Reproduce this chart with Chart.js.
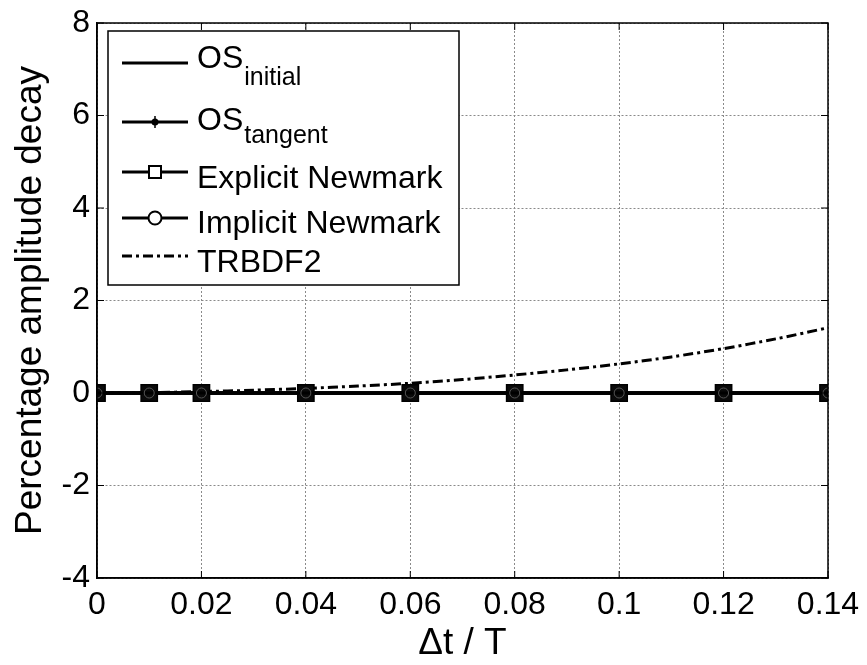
<!DOCTYPE html>
<html>
<head>
<meta charset="utf-8">
<script src="https://cdn.jsdelivr.net/npm/chart.js@4"></script>
<style>
    html, body { margin: 0; padding: 0; background: #fff; }
    #wrap { width: 867px; height: 665px; }
</style>
</head>
<body>
<div id="wrap"><canvas id="graphic"></canvas></div>
<script>
// --- DATOS ---
const xMarks = [0, 0.01, 0.02, 0.04, 0.06, 0.08, 0.1, 0.12, 0.14];
const osInitial = [0, 0, 0, 0, 0, 0, 0, 0, 0];
const osTangent = [0, 0, 0, 0, 0, 0, 0, 0, 0];
const explicitNewmark = [0, 0, 0, 0, 0, 0, 0, 0, 0];
const implicitNewmark = [0, 0, 0, 0, 0, 0, 0, 0, 0];

const xTrbdf2 = [0, 0.01, 0.02, 0.03, 0.04, 0.05, 0.06, 0.07, 0.08, 0.09, 0.1, 0.11, 0.12, 0.13, 0.14];
const trbdf2 = [0, 0.01, 0.03, 0.06, 0.1, 0.15, 0.21, 0.29, 0.39, 0.5, 0.63, 0.78, 0.96, 1.17, 1.41];

const xTicks = [0, 0.02, 0.04, 0.06, 0.08, 0.1, 0.12, 0.14];
const yTicks = [-4, -2, 0, 2, 4, 6, 8];

const FONT = "'Liberation Sans', Arial, sans-serif";

function puntos(xs, ys) {
    return xs.map((x, i) => ({ x: x, y: ys[i] }));
}

// caja, ticks interiores y leyenda estilo MATLAB
const marcoPlugin = {
    id: "marco",
    afterDraw(chart) {
        const ctx = chart.ctx;
        const a = chart.chartArea;
        const sx = chart.scales.x, sy = chart.scales.y;
        ctx.save();
        ctx.strokeStyle = "#000";
        ctx.lineWidth = 1.5;
        ctx.strokeRect(a.left, a.top, a.right - a.left, a.bottom - a.top);
        ctx.lineWidth = 1;
        ctx.beginPath();
        xTicks.forEach(v => {
            const px = sx.getPixelForValue(v);
            ctx.moveTo(px, a.bottom); ctx.lineTo(px, a.bottom - 7);
            ctx.moveTo(px, a.top); ctx.lineTo(px, a.top + 7);
        });
        yTicks.forEach(v => {
            const py = sy.getPixelForValue(v);
            ctx.moveTo(a.left, py); ctx.lineTo(a.left + 7, py);
            ctx.moveTo(a.right, py); ctx.lineTo(a.right - 7, py);
        });
        ctx.stroke();

        // leyenda
        const bx = 108, by = 31, bw = 351, bh = 254;
        ctx.fillStyle = "#fff";
        ctx.fillRect(bx, by, bw, bh);
        ctx.strokeStyle = "#000";
        ctx.lineWidth = 1.5;
        ctx.strokeRect(bx, by, bw, bh);

        const filas = [
            { ly: 63, base: 68, main: "OS", sub: "initial", subBase: 85, dash: [], marker: null },
            { ly: 122, base: 130, main: "OS", sub: "tangent", subBase: 143, dash: [], marker: "star" },
            { ly: 172, base: 188, main: "Explicit Newmark", dash: [], marker: "rect" },
            { ly: 218, base: 233, main: "Implicit Newmark", dash: [], marker: "circle" },
            { ly: 256, base: 272, main: "TRBDF2", dash: [10, 4, 3, 4], marker: null }
        ];
        filas.forEach(f => {
            ctx.strokeStyle = "#000";
            ctx.lineWidth = 3;
            ctx.setLineDash(f.dash);
            ctx.beginPath();
            ctx.moveTo(122, f.ly);
            ctx.lineTo(188, f.ly);
            ctx.stroke();
            ctx.setLineDash([]);
            const mx = 155;
            if (f.marker === "rect") {
                ctx.fillStyle = "#fff";
                ctx.lineWidth = 2;
                ctx.fillRect(mx - 6, f.ly - 6, 12, 12);
                ctx.strokeRect(mx - 6, f.ly - 6, 12, 12);
            } else if (f.marker === "circle") {
                ctx.fillStyle = "#fff";
                ctx.lineWidth = 2;
                ctx.beginPath();
                ctx.arc(mx, f.ly, 6.5, 0, Math.PI * 2);
                ctx.fill();
                ctx.stroke();
            } else if (f.marker === "star") {
                ctx.fillStyle = "#000";
                ctx.beginPath();
                ctx.arc(mx, f.ly, 3.5, 0, Math.PI * 2);
                ctx.fill();
                ctx.lineWidth = 1.5;
                ctx.beginPath();
                ctx.moveTo(mx, f.ly - 6); ctx.lineTo(mx, f.ly + 6);
                ctx.stroke();
            }
            ctx.fillStyle = "#000";
            ctx.textAlign = "left";
            ctx.textBaseline = "alphabetic";
            ctx.font = "32px " + FONT;
            ctx.fillText(f.main, 197, f.base);
            if (f.sub) {
                const w = ctx.measureText(f.main).width;
                ctx.font = "25px " + FONT;
                ctx.fillText(f.sub, 197 + w + 1, f.subBase);
            }
        });
        ctx.restore();
    }
};

new Chart(document.getElementById("graphic"), {
    type: "line",
    data: {
        datasets: [
            {
                label: "TRBDF2",
                data: puntos(xTrbdf2, trbdf2),
                borderColor: "#000",
                borderWidth: 3,
                borderDash: [10, 4, 3, 4],
                pointRadius: 0,
                tension: 0.3,
                order: 4
            },
            {
                label: "OS initial",
                data: puntos(xMarks, osInitial),
                borderColor: "#000",
                borderWidth: 3.5,
                pointRadius: 0,
                order: 3
            },
            {
                label: "OS tangent",
                data: puntos(xMarks, osTangent),
                borderColor: "#000",
                borderWidth: 3.5,
                pointStyle: "circle",
                pointRadius: 4,
                pointBackgroundColor: "#000",
                pointBorderColor: "#000",
                order: 2
            },
            {
                label: "Explicit Newmark",
                data: puntos(xMarks, explicitNewmark),
                borderColor: "#000",
                borderWidth: 3,
                pointStyle: "rect",
                pointRadius: 11.5,
                pointBackgroundColor: "#0a0a0a",
                pointBorderColor: "#000",
                pointBorderWidth: 1.5,
                order: 1
            },
            {
                label: "Implicit Newmark",
                data: puntos(xMarks, implicitNewmark),
                borderColor: "#000",
                borderWidth: 3,
                pointStyle: "circle",
                pointRadius: 5,
                pointBackgroundColor: "rgba(0,0,0,0)",
                pointBorderColor: "#555",
                pointBorderWidth: 1,
                order: 0
            }
        ]
    },
    options: {
        responsive: true,
        maintainAspectRatio: false,
        animation: false,
        layout: { padding: { top: 19, right: 39, left: 0, bottom: 0 } },
        plugins: {
            legend: { display: false },
            tooltip: { enabled: false }
        },
        scales: {
            x: {
                type: "linear",
                min: 0,
                max: 0.14,
                afterBuildTicks: s => { s.ticks = xTicks.map(v => ({ value: v })); },
                afterFit: s => { s.height = 87; },
                ticks: {
                    color: "#000",
                    font: { family: FONT, size: 32, lineHeight: 1.45 },
                    padding: 4,
                    maxRotation: 0,
                    callback: v => String(Number(v.toFixed(2)))
                },
                grid: { color: "#8a8a8a", lineWidth: 1, drawTicks: false },
                border: { color: "#000", width: 1.5, dash: [2, 2] },
                title: {
                    display: true,
                    text: "\u0394t / T",
                    color: "#000",
                    font: { family: FONT, size: 37, lineHeight: 1 },
                    padding: { top: 0, bottom: 3 }
                }
            },
            y: {
                min: -4,
                max: 8,
                afterBuildTicks: s => { s.ticks = yTicks.map(v => ({ value: v })); },
                afterFit: s => { s.width = 97; },
                ticks: {
                    color: "#000",
                    font: { family: FONT, size: 32, lineHeight: 1 },
                    padding: 7
                },
                grid: { color: "#8a8a8a", lineWidth: 1, drawTicks: false },
                border: { color: "#000", width: 1.5, dash: [2, 2] },
                title: {
                    display: true,
                    text: "Percentage amplitude decay",
                    color: "#000",
                    font: { family: FONT, size: 37, lineHeight: 1 },
                    padding: { top: 12, bottom: 0 }
                }
            }
        }
    },
    plugins: [marcoPlugin]
});
</script>
</body>
</html>
